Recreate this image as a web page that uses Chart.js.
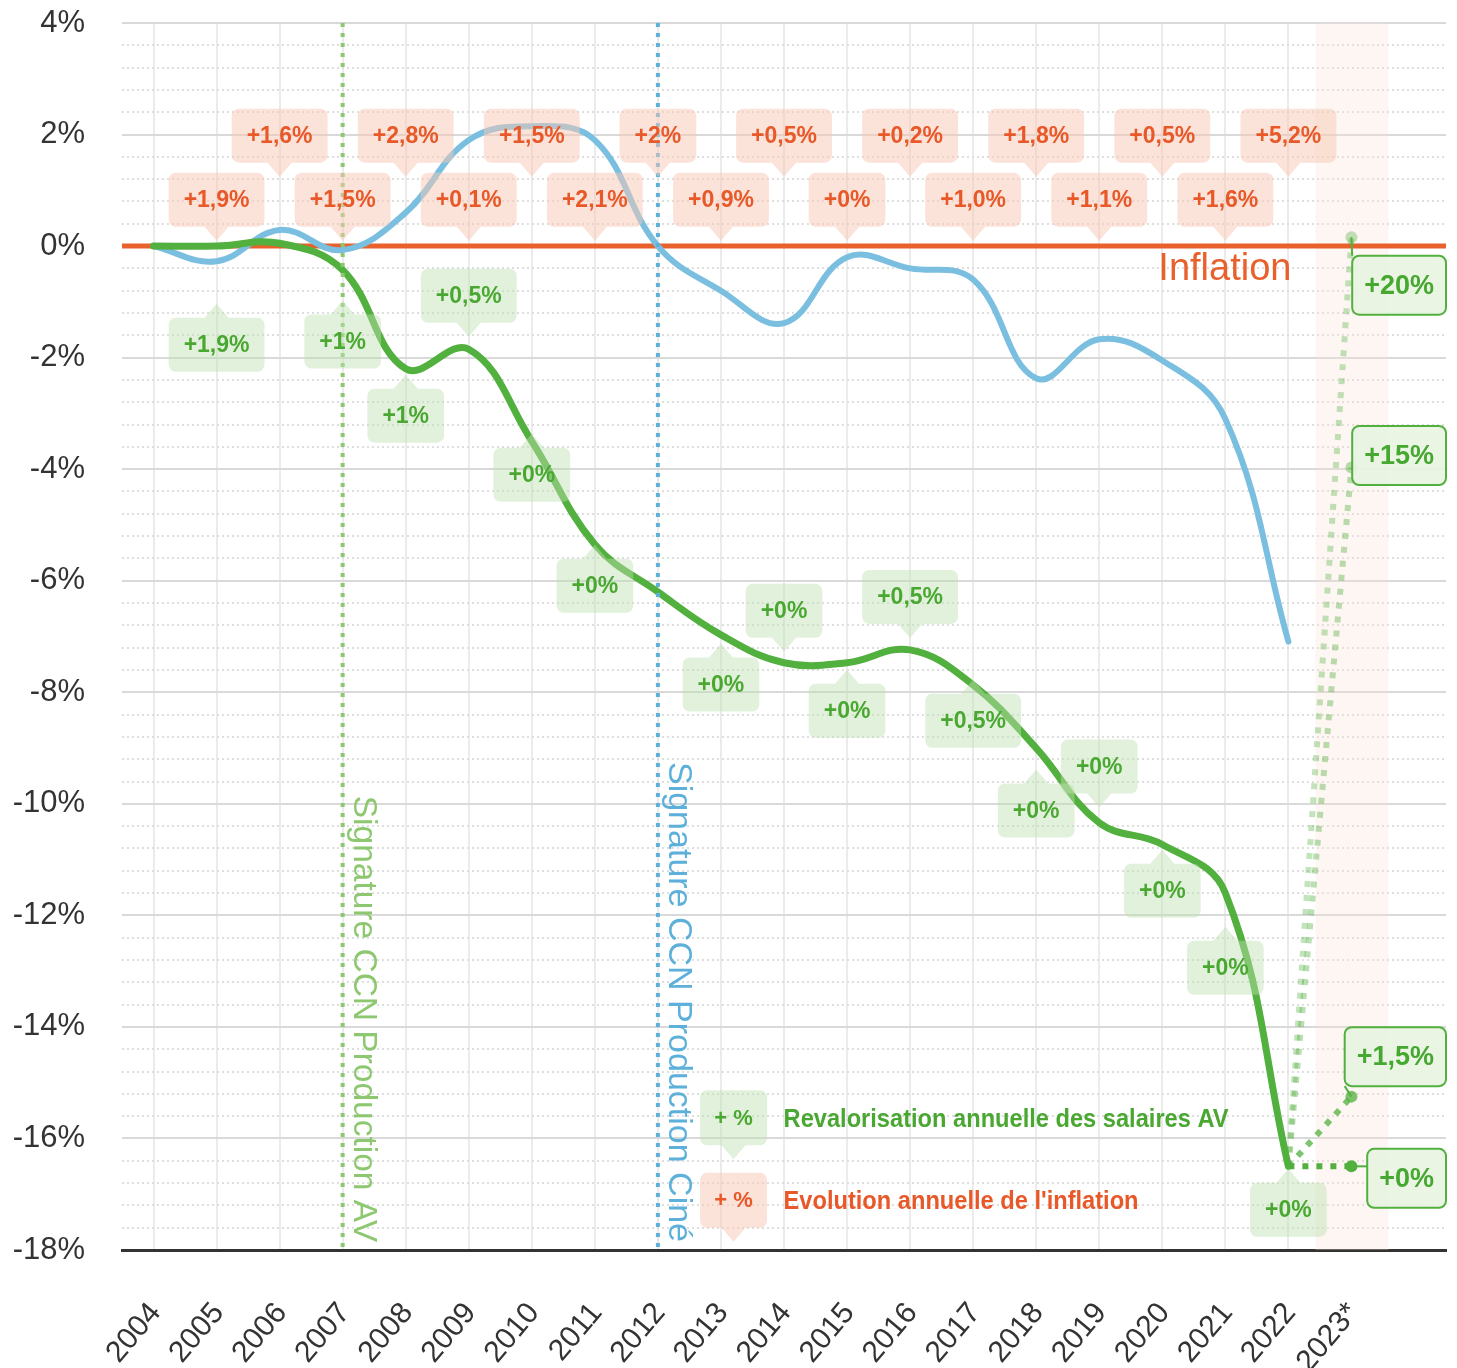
<!DOCTYPE html>
<html lang="fr">
<head>
<meta charset="utf-8">
<title>Salaires AV et inflation</title>
<script src="https://cdn.jsdelivr.net/npm/chart.js@4.4.1/dist/chart.umd.min.js"></script>
<style>
  html, body { margin: 0; padding: 0; background: #fff; }
  #wrap { width: 1457px; height: 1368px; position: relative; }
</style>
</head>
<body>
<div id="wrap"><canvas id="chart"></canvas></div>
<script>
// Années (2023* = projection)
const years = ['2004', '2005', '2006', '2007', '2008', '2009', '2010', '2011', '2012', '2013',
               '2014', '2015', '2016', '2017', '2018', '2019', '2020', '2021', '2022', '2023*'];

// Écart cumulé avec l'inflation (%), 2004 -> 2022
const salairesAV = [0, 0, 0.05, -0.43, -2.2, -1.85, -3.5, -5.35, -6.2, -6.97,
                    -7.47, -7.47, -7.24, -7.87, -9.0, -10.34, -10.73, -11.6, -16.5];
const salairesCine = [0, -0.27, 0.29, -0.07, 0.6, 1.9, 2.15, 1.9, 0, -0.8,
                      -1.38, -0.2, -0.4, -0.6, -2.37, -1.67, -2.05, -3.1, -7.09];

// Étiquettes annuelles
const inflationAnnuelle = [null, '+1,9%', '+1,6%', '+1,5%', '+2,8%', '+0,1%', '+1,5%', '+2,1%', '+2%', '+0,9%',
                           '+0,5%', '+0%', '+0,2%', '+1,0%', '+1,8%', '+1,1%', '+0,5%', '+1,6%', '+5,2%'];
const revalorisationAV = [null, '+1,9%', null, '+1%', '+1%', '+0,5%', '+0%', '+0%', null, '+0%',
                          '+0%', '+0%', '+0,5%', '+0,5%', '+0%', '+0%', '+0%', '+0%', '+0%'];

// Scénarios 2023*
const scenarios2023 = ['+20%', '+15%', '+1,5%', '+0%'];
const scenarioValues2023 = [0.16, -3.97, -15.25, -16.5];

// Axe Y
const yTicks = [4, 2, 0, -2, -4, -6, -8, -10, -12, -14, -16, -18];

// ---- mise en page / styles ----
const GREEN = 'rgb(82, 176, 62)';
const BLUE = 'rgb(122, 191, 224)';
const ORANGE = 'rgb(232, 96, 44)';
const FONT = '"Liberation Sans", Arial, sans-serif';

// position verticale (en %) des bulles vertes
const greenLabelY = [null, -1.77, null, -1.71, -3.04, -0.89, -4.10, -6.09, null, -7.86,
                     -6.54, -8.33, -6.29, -8.51, -10.12, -9.33, -11.56, -12.94, -17.28];
const scenarioAlpha = [0.35, 0.4, 0.75, 1];
const scenarioOffsetY = [48, -12, -40, 12];

function bubble(ctx, cx, cy, w, h, pointer, fill) {
    const top = cy - h / 2, bottom = cy + h / 2;
    ctx.beginPath();
    ctx.roundRect(cx - w / 2, top, w, h, 7);
    if (pointer === 'down') {
        ctx.moveTo(cx - 12, bottom);
        ctx.lineTo(cx, bottom + 14);
        ctx.lineTo(cx + 12, bottom);
        ctx.closePath();
    } else if (pointer === 'up') {
        ctx.moveTo(cx - 12, top);
        ctx.lineTo(cx, top - 14);
        ctx.lineTo(cx + 12, top);
        ctx.closePath();
    }
    ctx.fillStyle = fill;
    ctx.fill();
}

function labelBubble(ctx, text, cx, cy, pointer, fill, color) {
    ctx.font = 'bold 23px ' + FONT;
    const w = ctx.measureText(text).width + 30;
    bubble(ctx, cx, cy, w, 54, pointer, fill);
    ctx.fillStyle = color;
    ctx.textAlign = 'center';
    ctx.textBaseline = 'middle';
    ctx.fillText(text, cx, cy + 1);
}

function verticalMarker(ctx, a, x, color, text, size) {
    ctx.save();
    ctx.strokeStyle = color;
    ctx.lineWidth = 4;
    ctx.setLineDash([4, 6]);
    ctx.beginPath();
    ctx.moveTo(x, a.top);
    ctx.lineTo(x, a.bottom);
    ctx.stroke();
    ctx.setLineDash([]);
    ctx.translate(x + 11, a.bottom - 8);
    ctx.rotate(Math.PI / 2);
    ctx.font = size + 'px ' + FONT;
    ctx.fillStyle = color;
    ctx.textAlign = 'right';
    ctx.textBaseline = 'alphabetic';
    ctx.fillText(text, 0, 0);
    ctx.restore();
}

const overlayPlugin = {
    id: 'overlays',
    beforeDatasetsDraw(chart) {
        const {ctx, chartArea: a, scales: {x, y}} = chart;
        ctx.save();
        // bande 2023*
        const cx = x.getPixelForValue(19);
        ctx.fillStyle = 'rgba(250, 225, 212, 0.3)';
        ctx.fillRect(cx - 36, a.top, 73, a.bottom - a.top);
        // ligne inflation
        const y0 = y.getPixelForValue(0);
        ctx.strokeStyle = ORANGE;
        ctx.lineWidth = 5;
        ctx.beginPath();
        ctx.moveTo(a.left, y0);
        ctx.lineTo(a.right, y0);
        ctx.stroke();
        ctx.restore();
    },
    afterDatasetsDraw(chart) {
        const {ctx, chartArea: a, scales: {x, y}} = chart;
        ctx.save();

        verticalMarker(ctx, a, x.getPixelForValue(3), 'rgb(141, 200, 112)', 'Signature CCN Production AV', 33.5);
        verticalMarker(ctx, a, x.getPixelForValue(8), 'rgb(92, 176, 218)', 'Signature CCN Production Ciné', 34);

        // bulles inflation annuelle
        inflationAnnuelle.forEach((t, i) => {
            if (!t) return;
            const cy = y.getPixelForValue(i % 2 ? 0.83 : 1.98);
            labelBubble(ctx, t, x.getPixelForValue(i), cy, 'down', 'rgba(248, 200, 180, 0.5)', 'rgb(232, 88, 40)');
        });

        // bulles revalorisation AV
        revalorisationAV.forEach((t, i) => {
            if (!t) return;
            const pos = greenLabelY[i];
            const dir = pos < salairesAV[i] ? 'up' : 'down';
            labelBubble(ctx, t, x.getPixelForValue(i), y.getPixelForValue(pos), dir,
                        'rgba(190, 225, 175, 0.45)', 'rgb(74, 168, 50)');
        });

        // légende
        const lx = x.getPixelForValue(9.2);
        const rows = [
            {y: -15.63, fill: 'rgba(190, 225, 175, 0.45)', color: 'rgb(74, 168, 50)',
             text: 'Revalorisation annuelle des salaires AV', w: 445},
            {y: -17.11, fill: 'rgba(248, 200, 180, 0.5)', color: 'rgb(232, 88, 40)',
             text: "Evolution annuelle de l'inflation", w: 355}
        ];
        rows.forEach(r => {
            const cy = y.getPixelForValue(r.y);
            bubble(ctx, lx, cy, 67, 55, 'down', r.fill);
            ctx.font = 'bold 22px ' + FONT;
            ctx.fillStyle = r.color;
            ctx.textAlign = 'center';
            ctx.textBaseline = 'middle';
            ctx.fillText('+ %', lx, cy + 1);
            ctx.font = 'bold 25px ' + FONT;
            ctx.textAlign = 'left';
            ctx.fillText(r.text, lx + 50, cy + 2, r.w);
        });

        // texte Inflation
        ctx.font = '38px ' + FONT;
        ctx.fillStyle = ORANGE;
        ctx.textAlign = 'left';
        ctx.textBaseline = 'alphabetic';
        ctx.fillText('Inflation', x.getPixelForValue(17) - 67, y.getPixelForValue(-0.6), 142);

        // bulles scénarios 2023*
        const px = x.getPixelForValue(19);
        scenarios2023.forEach((t, k) => {
            const py = y.getPixelForValue(scenarioValues2023[k]);
            ctx.font = 'bold 27px ' + FONT;
            const w = ctx.measureText(t).width + 24;
            const h = 59;
            const left = a.right - w;
            const cy = py + scenarioOffsetY[k];
            const ey = Math.min(Math.max(py, cy - h / 2), cy + h / 2);
            ctx.strokeStyle = GREEN;
            ctx.lineWidth = 2;
            ctx.beginPath();
            ctx.moveTo(px, py);
            ctx.lineTo(left, ey);
            ctx.stroke();
            ctx.beginPath();
            ctx.roundRect(left, cy - h / 2, w, h, 7);
            ctx.fillStyle = 'rgba(232, 244, 226, 0.92)';
            ctx.fill();
            ctx.stroke();
            ctx.fillStyle = 'rgb(70, 168, 48)';
            ctx.textAlign = 'center';
            ctx.textBaseline = 'middle';
            ctx.fillText(t, left + w / 2, cy + 1);
        });

        ctx.restore();
    }
};

const scenarioDatasets = scenarios2023.map((t, k) => ({
    label: 'Scénario ' + t,
    data: years.map((_, i) => i === 18 ? salairesAV[18] : (i === 19 ? scenarioValues2023[k] : null)),
    borderColor: `rgba(82, 176, 62, ${scenarioAlpha[k]})`,
    backgroundColor: `rgba(82, 176, 62, ${scenarioAlpha[k]})`,
    borderWidth: 6,
    borderDash: [6, 8],
    pointRadius: c => c.dataIndex === 19 ? 6 : 0,
    pointBorderWidth: 0,
    tension: 0
}));

new Chart(document.getElementById('chart'), {
    type: 'line',
    data: {
        labels: [...years, ''],
        datasets: [
            {
                label: 'Salaires AV',
                data: salairesAV,
                borderColor: GREEN,
                borderWidth: 7,
                tension: 0.4,
                pointRadius: 0,
                borderCapStyle: 'round'
            },
            ...scenarioDatasets,
            {
                label: 'Salaires Ciné',
                data: salairesCine,
                borderColor: BLUE,
                borderWidth: 6,
                tension: 0.4,
                pointRadius: 0,
                borderCapStyle: 'round'
            }
        ]
    },
    options: {
        responsive: true,
        maintainAspectRatio: false,
        animation: false,
        layout: { padding: { top: 23, right: 11, left: 0, bottom: 0 } },
        plugins: {
            legend: { display: false },
            tooltip: { enabled: false }
        },
        scales: {
            x: {
                offset: true,
                grid: {
                    color: c => c.index >= 19 ? 'rgba(0,0,0,0)' : '#ebebeb',
                    lineWidth: 2,
                    drawTicks: true,
                    tickLength: 46,
                    tickColor: 'rgba(0,0,0,0)'
                },
                border: { color: '#333', width: 3 },
                ticks: {
                    color: '#333',
                    font: { family: FONT, size: 30 },
                    minRotation: 50,
                    maxRotation: 50,
                    autoSkip: false,
                    padding: 0,
                    labelOffset: 2
                },
                afterFit: s => { s.height = 118; }
            },
            yMinor: {
                position: 'left',
                min: -18,
                max: 4,
                grid: { color: '#dedede', lineWidth: 2, drawTicks: false },
                border: { display: false, dash: [2, 3] },
                ticks: { display: false, padding: 0 },
                afterBuildTicks: s => {
                    const t = [];
                    for (let k = 0; k <= 55; k++) t.push({ value: Math.round((-18 + k * 0.4) * 10) / 10 });
                    s.ticks = t;
                },
                afterFit: s => { s.width = 0; }
            },
            y: {
                position: 'left',
                min: -18,
                max: 4,
                grid: {
                    color: '#d9d9d9',
                    lineWidth: 2,
                    drawTicks: true,
                    tickLength: 37,
                    tickColor: 'rgba(0,0,0,0)'
                },
                border: { display: false },
                ticks: {
                    color: '#333',
                    font: { family: FONT, size: 31 },
                    padding: 0,
                    callback: v => v + '%'
                },
                afterBuildTicks: s => { s.ticks = yTicks.map(v => ({ value: v })); },
                afterFit: s => { s.width = 122; }
            }
        }
    },
    plugins: [overlayPlugin]
});
</script>
</body>
</html>
